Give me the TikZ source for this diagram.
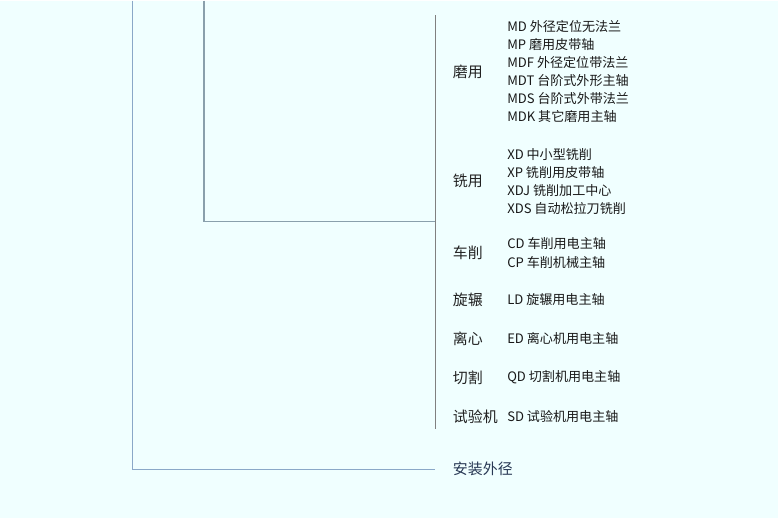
\documentclass[tikz,border=0pt]{standalone}
\usepackage{fontspec}
\setmainfont{Noto Sans CJK SC}
\usepackage{tikz}

\begin{document}
\begin{tikzpicture}[x=0.75pt,y=0.75pt,yscale=-1,xscale=1,
  cat/.style={anchor=west,inner sep=0.75pt,font=\fontsize{11.2}{13}\selectfont,color={rgb, 255:red, 34; green, 34; blue, 34 }},
  item/.style={anchor=west,inner sep=0.75pt,font=\fontsize{9.8}{11}\selectfont,color={rgb, 255:red, 25; green, 25; blue, 25 }}]
%set diagram size 778 x 517
\path [fill={rgb, 255:red, 240; green, 255; blue, 255 }] (0,0) rectangle (778,517);

%Coordinates of the tree
\coordinate (outTop) at (132.7,0);
\coordinate (outCorner) at (132.7,469);
\coordinate (outEnd) at (435,469);
\coordinate (inTop) at (204,0);
\coordinate (inCorner) at (204,221);
\coordinate (inEnd) at (435,221);
\coordinate (brTop) at (435,14.7);
\coordinate (brBot) at (435,428);

%Straight Lines
\draw [color={rgb, 255:red, 138; green, 168; blue, 200 }  ,draw opacity=1 ][line width=0.9]    (outTop) -- (outCorner) -- (outEnd) ;
%Straight Lines
\draw [color={rgb, 255:red, 138; green, 160; blue, 172 }  ,draw opacity=1 ][line width=0.9]    (inTop) -- (inCorner) -- (inEnd) ;
%Straight Lines
\draw [color={rgb, 255:red, 128; green, 128; blue, 128 }  ,draw opacity=1 ][line width=0.75]    (brTop) -- (brBot) ;

% Text Node
\node [cat] (mo) at (451.7,71.3) {磨用};
\node [cat] (xi) at (451.7,180) {铣用};
\node [cat] (che) at (451.7,252.3) {车削};
\node [cat] (xuan) at (451.7,299.3) {旋辗};
\node [cat] (li) at (451.7,338.3) {离心};
\node [cat] (qie) at (451.7,376.7) {切割};
\node [cat] (shi) at (451.7,416) {试验机};
% Text Node
\node [cat,color={rgb, 255:red, 40; green, 56; blue, 84 }] (anz) at (451.7,468.3) {安装外径};

% Text Node
\node [item] (md) at (506,26) {MD 外径定位无法兰};
\node [item] (mp) at (506,44) {MP 磨用皮带轴};
\node [item] (mdf) at (506,62) {MDF 外径定位带法兰};
\node [item] (mdt) at (506,80) {MDT 台阶式外形主轴};
\node [item] (mds) at (506,98) {MDS 台阶式外带法兰};
\node [item] (mdk) at (506,116) {MDK 其它磨用主轴};
% Text Node
\node [item] (xd) at (506,154) {XD 中小型铣削};
\node [item] (xp) at (506,172) {XP 铣削用皮带轴};
\node [item] (xdj) at (506,190) {XDJ 铣削加工中心};
\node [item] (xds) at (506,208) {XDS 自动松拉刀铣削};
% Text Node
\node [item] (cd) at (506,243.3) {CD 车削用电主轴};
\node [item] (cp) at (506,261.7) {CP 车削机械主轴};
\node [item] (ld) at (506,299.3) {LD 旋辗用电主轴};
\node [item] (ed) at (506,338.3) {ED 离心机用电主轴};
\node [item] (qd) at (506,376.7) {QD 切割机用电主轴};
\node [item] (sd) at (506,416) {SD 试验机用电主轴};

\end{tikzpicture}
\end{document}
